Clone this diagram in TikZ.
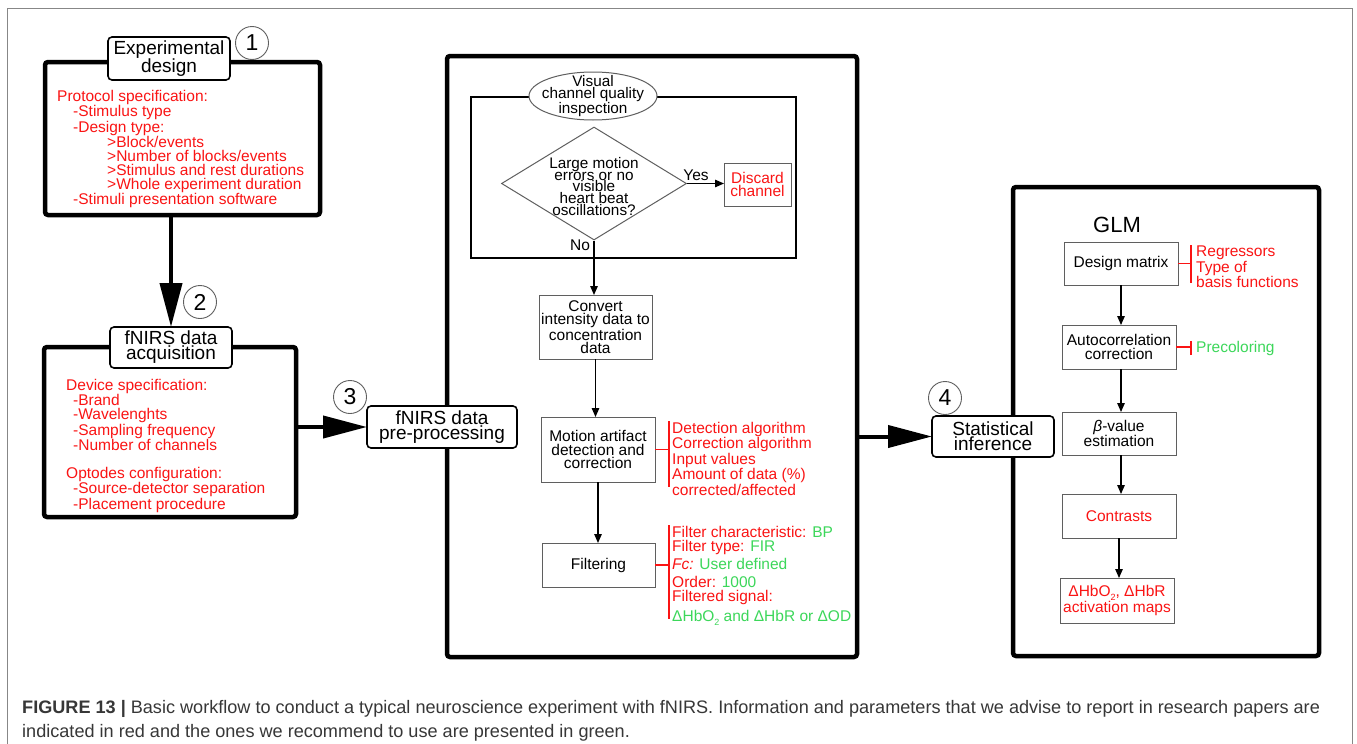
\documentclass[tikz,border=0pt]{standalone}
\usepackage{fontspec}
\setmainfont{Liberation Sans}
\usetikzlibrary{arrows.meta,shapes.geometric}
\definecolor{myred}{RGB}{250,20,20}
\definecolor{mygreen}{RGB}{60,215,90}
\definecolor{boxgray}{RGB}{95,95,95}
\definecolor{capgray}{RGB}{55,55,55}
\definecolor{framegray}{RGB}{135,135,135}
\newcommand{\fTitle}{\fontsize{19}{15}\selectfont}
\newcommand{\fBody}{\fontsize{15.5}{13.8}\selectfont}
\newcommand{\fInner}{\fontsize{15.5}{13.6}\selectfont}
\newcommand{\fDia}{\fontsize{15.3}{11.8}\selectfont}
\newcommand{\fNum}{\fontsize{23}{23}\selectfont}
\newcommand{\fCap}{\fontsize{18.1}{24}\selectfont}
\newcommand{\subtwo}{\raisebox{-0.4ex}{\fontsize{9}{9}\selectfont 2}}
\begin{document}
\begin{tikzpicture}[x=1pt,y=-1pt,
  bigbox/.style={draw, line width=4.5pt, rounded corners=3pt, outer sep=0pt, inner sep=0pt},
  titlebox/.style={draw, fill=white, line width=1.6pt, rounded corners=4pt, align=center, font=\fTitle, inner sep=0pt, outer sep=0pt},
  numcirc/.style={circle, draw=boxgray, line width=0.9pt, minimum size=33pt, inner sep=0pt, font=\fNum},
  inbox/.style={draw=boxgray, line width=1pt, align=center, font=\fInner, inner sep=0pt, outer sep=0pt},
  arr/.style={-{Triangle[length=9pt,width=7.5pt]}, line width=1.3pt},
  bigarr/.style={-{Triangle[length=44pt,width=22pt]}, line width=4pt},
  brk/.style={draw=myred, line width=1.8pt},
  redtxt/.style={text=myred, align=left, anchor=north west, inner sep=0pt, font=\fBody},
  plain/.style={inner sep=0pt, font=\fInner, align=center},
]
\useasboundingbox (0,0) rectangle (1357,744);
\fill[white] (0,0) rectangle (1357,744);
% outer frame
\draw[framegray, line width=1pt] (7,744) -- (7,8) -- (1352,8) -- (1352,744);

% ---------- Box 1
\node[bigbox, minimum width=275pt, minimum height=153pt] (box1) at (182.5,138.5) {};
\node[titlebox, minimum width=122pt, minimum height=43pt] (t1) at (169,58.5) {Experimental\\design};
\node[numcirc] (c1) at (252,43) {1};
\node[redtxt] (r1) at (57,90) {Protocol specification:\\
\hspace*{16pt}-Stimulus type\\
\hspace*{16pt}-Design type:\\
\hspace*{50pt}>Block/events\\
\hspace*{50pt}>Number of blocks/events\\
\hspace*{50pt}>Stimulus and rest durations\\
\hspace*{50pt}>Whole experiment duration\\
\hspace*{16pt}-Stimuli presentation software};

% ---------- Box 2
\node[bigbox, minimum width=252pt, minimum height=170pt] (box2) at (170,432) {};
\node[titlebox, minimum width=122pt, minimum height=41pt] (t2) at (171,347.5) {fNIRS data\\acquisition};
\node[numcirc] (c2) at (200,302) {2};
\node[redtxt] (r2) at (66,379) {Device specification:\\
\hspace*{7pt}-Brand\\
\hspace*{7pt}-Wavelenghts\\
\hspace*{7pt}-Sampling frequency\\
\hspace*{7pt}-Number of channels\\[13.8pt]
Optodes configuration:\\
\hspace*{7pt}-Source-detector separation\\
\hspace*{7pt}-Placement procedure};

\draw[bigarr] (box1.south -| t2.north) -- (t2.north);

% ---------- Box 3
\node[bigbox, minimum width=410pt, minimum height=601pt] (box3) at (652,356.5) {};
\node[titlebox, minimum width=150pt, minimum height=42pt] (pre) at (442,427) {fNIRS data\\pre-processing};
\node[numcirc] (c3) at (350,397) {3};
\draw[bigarr] (box2.east |- pre.west) -- (pre.west);

\draw[line width=1.5pt] (471,97) rectangle (796,258);
\node[ellipse, draw=boxgray, fill=white, line width=1pt, minimum width=128pt, minimum height=48pt, inner sep=0pt] (ell) at (593,96) {};
\node[plain, font=\fDia] (elltxt) at (593,96.5) {Visual\\channel quality\\inspection};
\node[diamond, draw=boxgray, fill=white, line width=1pt, minimum width=185pt, minimum height=113pt, inner sep=0pt] (dia) at (594,183.5) {};
\node[plain, font=\fDia] (diatxt) at (594,186.5) {Large motion\\errors or no\\visible\\heart beat\\oscillations?};
\node[inbox, minimum width=67pt, minimum height=43pt, text=myred] (disc) at (757.5,184.5) {Discard\\channel};
\draw[arr] (dia.east) -- (dia.east -| disc.west);
\node[plain] (yes) at (696,175) {Yes};
\node[plain] (no) at (580,245) {No};

\node[inbox, minimum width=113pt, minimum height=64pt] (conv) at (595.5,327) {Convert\\intensity data to\\concentration\\data};
\node[inbox, minimum width=114pt, minimum height=65pt] (mot) at (598,449.5) {Motion artifact\\detection and\\correction};
\node[inbox, minimum width=113pt, minimum height=44pt] (filt) at (598.5,565) {Filtering};
\draw[arr] (dia.south) -- (dia.south |- conv.north);
\draw[arr] (conv.south) -- (conv.south |- mot.north);
\draw[arr] (mot.south) -- (mot.south |- filt.north);

\node[redtxt] (mtxt) at (672,422) {Detection algorithm\\Correction algorithm\\Input values\\Amount of data (\%)\\corrected/affected};
\coordinate (mb1) at (669,421);
\coordinate (mb2) at (669,487);
\draw[brk] (mb1) -- (mb2);
\draw[brk, line width=1.5pt] (mot.east) -- (mot.east -| mb1);

\node[redtxt] (ftxt) at (672,526) {Filter characteristic: \textcolor{mygreen}{BP}\\
Filter type: \textcolor{mygreen}{FIR}\\[3pt]
\textit{Fc:} \textcolor{mygreen}{User defined}\\[4pt]
Order: \textcolor{mygreen}{1000}\\
Filtered signal:\\[5pt]
\textcolor{mygreen}{ΔHbO\subtwo\ and ΔHbR or ΔOD}};
\coordinate (fb1) at (669,525);
\coordinate (fb2) at (669,619);
\draw[brk] (fb1) -- (fb2);
\draw[brk, line width=1.5pt] (filt.east) -- (filt.east -| fb1);

% ---------- Box 4
\node[bigbox, minimum width=306pt, minimum height=469pt] (box4) at (1166,421.5) {};
\node[titlebox, minimum width=122pt, minimum height=41pt] (stat) at (993,436.5) {Statistical\\inference};
\node[numcirc] (c4) at (945,398) {4};
\draw[bigarr] (box3.east |- stat.west) -- (stat.west);

\node[inner sep=0pt, font=\fontsize{22}{22}\selectfont] (glm) at (1117,225) {GLM};
\node[inbox, minimum width=114pt, minimum height=43pt] (dm) at (1121,263.5) {Design matrix};
\node[inbox, minimum width=114pt, minimum height=44pt] (ac) at (1119,347) {Autocorrelation\\correction};
\node[inbox, minimum width=114pt, minimum height=43pt] (beta) at (1119,433.5) {\textit{β}-value\\estimation};
\node[inbox, minimum width=114pt, minimum height=44pt, text=myred] (con) at (1119,516) {Contrasts};
\node[inbox, minimum width=114pt, minimum height=45pt, text=myred] (maps) at (1117,600.5) {ΔHbO\subtwo, ΔHbR\\activation maps};
\draw[arr] (dm.south) -- (dm.south |- ac.north);
\draw[arr] (ac.south -| dm.south) -- (dm.south |- beta.north);
\draw[arr] (beta.south -| dm.south) -- (dm.south |- con.north);
\draw[arr] (con.south) -- (con.south |- maps.north);

\node[redtxt] (dtxt) at (1196,246) {Regressors\\Type of\\basis functions};
\coordinate (db1) at (1191,245);
\coordinate (db2) at (1191,283);
\draw[brk] (db1) -- (db2);
\draw[brk, line width=1.5pt] (dm.east) -- (dm.east -| db1);

\node[inner sep=0pt, anchor=west, text=mygreen, font=\fBody] (ptxt) at (1196,348) {Precoloring};
\coordinate (pb1) at (1191,341);
\coordinate (pb2) at (1191,355);
\draw[brk] (pb1) -- (pb2);
\draw[brk, line width=1.5pt] (ac.east) -- (ac.east -| pb1);

% ---------- Caption
\node[anchor=north west, inner sep=0pt, align=left, text=capgray, font=\fCap] (cap) at (22,700) {\textbf{FIGURE 13 |} Basic workflow to conduct a typical neuroscience experiment with fNIRS. Information and parameters that we advise to report in research papers are\\
indicated in red and the ones we recommend to use are presented in green.};
\end{tikzpicture}
\end{document}
